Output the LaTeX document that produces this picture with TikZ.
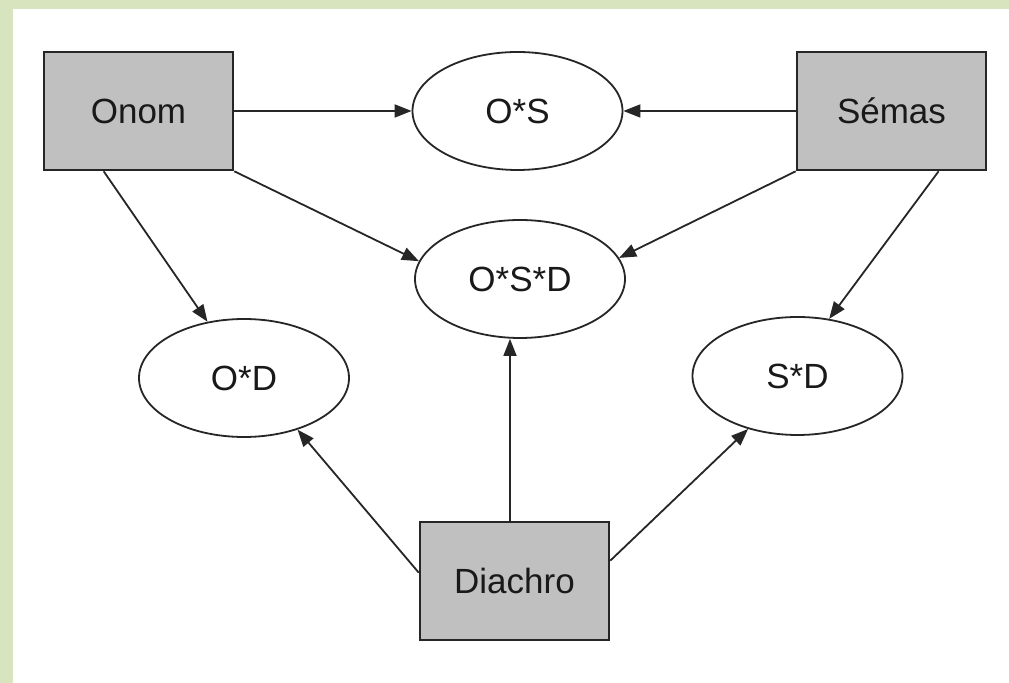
\documentclass[tikz,border=0pt]{standalone}
\usepackage{fontspec}
\setmainfont{Liberation Sans}
\usetikzlibrary{arrows.meta,shapes.geometric,positioning}
\definecolor{bordgreen}{HTML}{D8E4BD}
\definecolor{boxgrey}{HTML}{C0C0C0}
\begin{document}
\begin{tikzpicture}[x=0.5pt,y=-0.5pt,
    base/.style={draw=black!85, text=black!90, font=\fontsize{17.5}{20}\selectfont, inner sep=0pt},
    src/.style={base, rectangle, fill=boxgrey, line width=1.3pt, minimum width=94.5pt, minimum height=59pt},
    cross/.style={base, ellipse, fill=white, line width=0.9pt, minimum width=105pt, minimum height=59pt},
    link/.style={-{Triangle[length=8.5pt,width=6.5pt]}, line width=0.9pt, draw=black!85}]
  % page and green margin
  \fill[bordgreen] (0,0) rectangle (1009,683);
  \fill[white] (13,9) rectangle (1009,683);
  % sources
  \node[src] (onom) at (138.5,111) {Onom};
  \node[src] (semas) at (891.5,111) {Sémas};
  \node[src] (diachro) at (514.5,581) {Diachro};
  % crossings
  \node[cross] (os) at (517.5,111) {O*S};
  \node[cross] (osd) at (520,279) {O*S*D};
  \node[cross] (od) at (244,378) {O*D};
  \node[cross] (sd) at (797.5,376) {S*D};
  % links
  \draw[link] (onom.east) -- (os.west);
  \draw[link] (semas.west) -- (os.east);
  \draw[link] (onom.south east) -- (osd.170);
  \draw[link] (semas.south west) -- (osd.12);
  \draw[link] (onom.240) -- (od.123);
  \draw[link] (semas.308) -- (sd.61);
  \draw[link] (diachro.175) -- (od.-44);
  \draw[link] (diachro.12) -- (sd.227);
  \draw[link] ([xshift=-2.25pt]diachro.north) -- ([xshift=-2.25pt]diachro.north |- osd.south);
\end{tikzpicture}
\end{document}
